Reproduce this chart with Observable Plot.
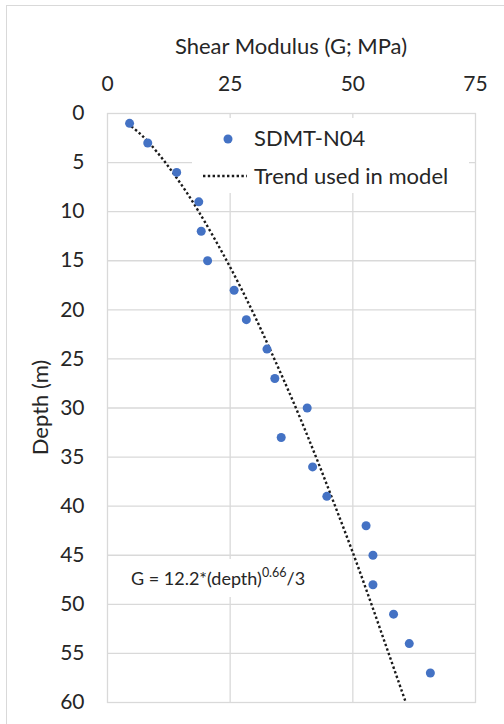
<!DOCTYPE html>
<html>
<head>
<meta charset="utf-8">
<script src="https://cdn.jsdelivr.net/npm/d3@7"></script>
<script src="https://cdn.jsdelivr.net/npm/@observablehq/plot@0.6"></script>
<style>
  html, body { margin: 0; padding: 0; background: #fff; overflow: hidden; }
  #wrap { position: relative; width: 504px; height: 724px; overflow: hidden; font-family: Lato, "Open Sans", sans-serif; }
  #wrap > svg { position: absolute; left: 0; top: 0; }
  #border { position: absolute; left: 6px; top: 5px; width: 600px; height: 800px; border: 1px solid #d9d9d9; }
</style>
</head>
<body>
<div id="wrap"><div id="border"></div></div>
<script>
// Measured SDMT-N04 data points
const depth = [1, 3, 6, 9, 12, 15, 18, 21, 24, 27, 30, 33, 36, 39, 42, 45, 48, 51, 54, 57];
const shearG = [4.5, 8.2, 14.1, 18.6, 19.1, 20.4, 25.8, 28.3, 32.5, 34.1, 40.7, 35.4, 41.8, 44.7, 52.7, 54.1, 54.1, 58.3, 61.5, 65.8];

// Trend used in model
const trendDepth = [1, 2, 3, 5, 7.5, 10, 15, 20, 25, 30, 35, 40, 45, 50, 55, 60];
const trendG = [4.1, 6.5, 8.5, 11.8, 15.4, 18.6, 24.3, 29.4, 34.0, 38.4, 42.5, 46.4, 50.2, 53.8, 57.3, 60.8];

// Tick labels
const xTicks = [0, 25, 50, 75];
const yTicks = [0, 5, 10, 15, 20, 25, 30, 35, 40, 45, 50, 55, 60];

const xTitle = "Shear Modulus (G; MPa)";
const yTitle = "Depth (m)";
const seriesName = "SDMT-N04";
const trendName = "Trend used in model";

const points = depth.map((d, i) => ({depth: d, G: shearG[i]}));
const trend = trendDepth.map((d, i) => ({depth: d, G: trendG[i]}));

const W = 504, H = 724;
const mL = 107, mR = 29, mT = 113, mB = 22;
const textColor = "#262626";
const gridColor = "#d9d9d9";
const dash = "2.4 2.4";

const chart = Plot.plot({
  width: W,
  height: H,
  marginLeft: mL,
  marginRight: mR,
  marginTop: mT,
  marginBottom: mB,
  style: {fontFamily: "Lato, 'Open Sans', sans-serif", color: textColor, background: "transparent", overflow: "visible"},
  x: {domain: [0, 75]},
  y: {domain: [0, 60], reverse: true},
  marks: [
    Plot.gridX(xTicks.slice(1, -1), {stroke: gridColor, strokeOpacity: 1, strokeWidth: 1.3}),
    Plot.gridY(yTicks.slice(1, -1), {stroke: gridColor, strokeOpacity: 1, strokeWidth: 1.3}),
    Plot.frame({stroke: gridColor, strokeWidth: 1.3}),
    Plot.axisX(xTicks, {anchor: "top", tickSize: 0, tickPadding: 23, fontSize: 21, label: null, fill: textColor}),
    Plot.axisY(yTicks, {anchor: "left", tickSize: 0, tickPadding: 23, fontSize: 21, label: null, fill: textColor}),
    Plot.line(trend, {x: "G", y: "depth", stroke: "#1a1a1a", strokeWidth: 2.4, strokeDasharray: dash, strokeLinecap: "butt", curve: "catmull-rom"}),
    Plot.dot(points, {x: "G", y: "depth", r: 4.5, fill: "#4472C4", stroke: "none"})
  ]
});

const wrap = document.getElementById("wrap");
wrap.appendChild(chart);

// Overlay: titles, legend, annotation
const ns = "http://www.w3.org/2000/svg";
const ov = document.createElementNS(ns, "svg");
ov.setAttribute("width", W);
ov.setAttribute("height", H);
ov.style.fontFamily = "Lato, 'Open Sans', sans-serif";
ov.innerHTML = `
  <text x="${(mL + W - mR) / 2}" y="54" text-anchor="middle" font-size="22" fill="${textColor}">${xTitle}</text>
  <text transform="translate(48,${(mT + H - mB) / 2}) rotate(-90)" text-anchor="middle" font-size="22" fill="${textColor}">${yTitle}</text>
  <rect x="192" y="118" width="277" height="75" fill="#fff"/>
  <circle cx="228" cy="139" r="4.5" fill="#4472C4"/>
  <text x="254" y="146" font-size="22" fill="${textColor}">${seriesName}</text>
  <line x1="203" y1="176" x2="247" y2="176" stroke="#1a1a1a" stroke-width="2.4" stroke-dasharray="${dash}"/>
  <text x="254" y="184" font-size="22" fill="${textColor}">${trendName}</text>
  <rect x="120" y="559" width="210" height="38" fill="#fff"/>
  <text x="131" y="585" font-size="18" fill="${textColor}">G = 12.2*(depth)<tspan dy="-8" font-size="12.5">0.66</tspan><tspan dy="8">/3</tspan></text>
`;
ov.style.pointerEvents = "none";
wrap.appendChild(ov);
</script>
</body>
</html>
